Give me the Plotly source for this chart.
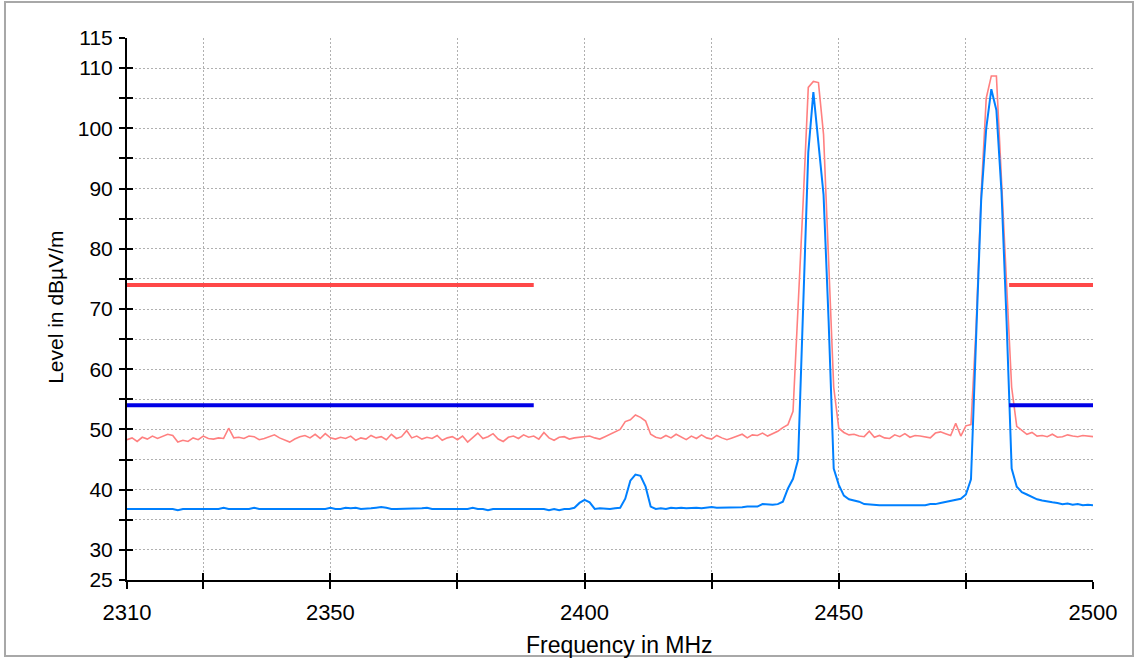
import numpy as np
import plotly.graph_objects as go

# Frequency grid (MHz), 1 MHz steps
freq = list(range(2310, 2501))

# Peak detector trace (dBµV/m)
peak = [
    48.3, 48.6, 48.0, 48.7, 48.4, 48.9, 48.5, 48.8, 49.2, 49.0,
    47.9, 48.2, 48.0, 48.6, 48.3, 48.9, 48.5, 48.4, 48.6, 48.5,
    50.2, 48.6, 48.7, 48.5, 48.9, 48.8, 48.3, 48.5, 48.8, 49.1,
    48.6, 48.2, 47.9, 48.4, 48.8, 49.0, 48.6, 49.2, 48.5, 49.3,
    48.6, 48.4, 48.7, 48.5, 48.9, 48.2, 48.6, 48.4, 49.0, 48.6,
    48.8, 48.3, 49.2, 48.5, 48.8, 49.8, 48.6, 48.9, 48.4, 48.7,
    48.5, 49.0, 48.2, 48.6, 48.8, 48.3, 48.9, 47.9, 48.6, 49.4,
    48.5, 48.8, 49.3, 48.4, 48.0, 48.7, 48.9, 48.5, 49.1, 48.7,
    48.9, 48.4, 49.5, 48.6, 48.2, 48.7, 48.8, 48.4, 48.6, 48.7,
    48.8, 48.9, 48.6, 48.4, 48.8, 49.2, 49.5, 50.0, 51.3, 51.6,
    52.4, 52.0, 51.4, 49.2, 48.7, 48.5, 49.0, 48.6, 49.2, 48.8,
    48.3, 48.9, 48.5, 49.1, 48.6, 48.4, 49.0, 48.6, 48.3, 48.6,
    48.9, 49.2, 48.6, 49.1, 49.0, 49.4, 48.9, 49.3, 49.7, 50.3,
    50.8, 53.0, 70.0, 88.0, 106.8, 107.8, 107.6, 99.0, 78.0, 57.0,
    50.2, 49.5, 49.1, 49.2, 48.9, 48.8, 49.7, 48.7, 49.0, 48.6,
    48.5, 49.1, 48.8, 49.3, 48.7, 49.0, 48.9, 48.8, 48.6, 49.4,
    49.6, 49.3, 49.0, 51.0, 48.9, 50.6, 50.8, 66.8, 89.0, 105.0,
    108.7, 108.7, 92.0, 75.0, 57.0, 50.5, 49.8, 49.2, 49.5, 48.9,
    49.0, 48.8, 49.2, 48.7, 48.8, 49.1, 48.9, 48.8, 49.0, 48.9,
    48.8,
]

# Average detector trace (dBµV/m)
average = [
    36.8, 36.8, 36.8, 36.8, 36.8, 36.8, 36.8, 36.8, 36.8, 36.8,
    36.6, 36.8, 36.8, 36.8, 36.8, 36.8, 36.8, 36.8, 36.8, 37.0,
    36.8, 36.8, 36.8, 36.8, 36.8, 37.0, 36.8, 36.8, 36.8, 36.8,
    36.8, 36.8, 36.8, 36.8, 36.8, 36.8, 36.8, 36.8, 36.8, 36.8,
    37.0, 36.8, 36.8, 37.0, 36.9, 37.0, 36.8, 36.8, 36.9, 37.0,
    37.1, 37.0, 36.8, 36.8, 36.8, 36.8, 36.8, 36.8, 36.9, 37.0,
    36.8, 36.8, 36.8, 36.8, 36.8, 36.8, 36.8, 36.8, 37.0, 36.8,
    36.8, 36.6, 36.8, 36.8, 36.8, 36.8, 36.8, 36.8, 36.8, 36.8,
    36.8, 36.8, 36.8, 36.6, 36.8, 36.6, 36.8, 36.8, 37.0, 37.8,
    38.3, 37.9, 36.8, 36.9, 36.8, 36.8, 36.9, 37.0, 38.5, 41.5,
    42.5, 42.3, 40.5, 37.2, 36.8, 36.9, 36.8, 37.0, 36.9, 37.0,
    36.9, 37.0, 37.0, 36.9, 37.0, 37.1, 37.0, 37.0, 37.0, 37.1,
    37.1, 37.1, 37.2, 37.2, 37.2, 37.6, 37.5, 37.5, 37.6, 38.0,
    40.2, 41.8, 45.0, 72.0, 96.0, 106.0, 97.5, 89.0, 68.0, 43.5,
    40.8, 39.0, 38.4, 38.2, 38.0, 37.6, 37.5, 37.4, 37.4, 37.4,
    37.4, 37.4, 37.4, 37.4, 37.4, 37.4, 37.4, 37.4, 37.6, 37.6,
    37.8, 38.0, 38.1, 38.4, 38.5, 39.2, 41.7, 65.0, 88.0, 100.0,
    106.5, 103.0, 89.5, 68.0, 43.5, 40.5, 39.6, 39.2, 38.8, 38.4,
    38.2, 38.0, 37.9, 37.8, 37.6, 37.7, 37.5, 37.6, 37.4, 37.5,
    37.4,
]

# Limits (restricted bands)
limit_bands_x = [[2310, 2390], [2483.5, 2500]]
peak_limit = 74
avg_limit = 54

# Axis ticks
x_tickvals = [2310, 2325, 2350, 2375, 2400, 2425, 2450, 2475, 2500]
x_ticktext = ["2310", "", "2350", "", "2400", "", "2450", "", "2500"]
y_tickvals = list(range(25, 116, 5))
y_labels = {25, 30, 40, 50, 60, 70, 80, 90, 100, 110, 115}
y_ticktext = [str(v) if v in y_labels else "" for v in y_tickvals]

FONT = "Liberation Sans, Arial, sans-serif"
PEAK_COLOR = "rgb(255,128,128)"
AVG_COLOR = "rgb(0,128,255)"
PEAK_LIMIT_COLOR = "rgb(255,72,72)"
AVG_LIMIT_COLOR = "rgb(0,0,230)"

fig = go.Figure()

fig.add_trace(go.Scatter(x=freq, y=peak, mode="lines",
                         line=dict(color=PEAK_COLOR, width=1.6),
                         hoverinfo="skip", showlegend=False))
fig.add_trace(go.Scatter(x=freq, y=average, mode="lines",
                         line=dict(color=AVG_COLOR, width=2),
                         hoverinfo="skip", showlegend=False))

for band in limit_bands_x:
    fig.add_trace(go.Scatter(x=band, y=[peak_limit, peak_limit], mode="lines",
                             line=dict(color=PEAK_LIMIT_COLOR, width=4),
                             xaxis="x2", yaxis="y2",
                             hoverinfo="skip", showlegend=False))
    fig.add_trace(go.Scatter(x=band, y=[avg_limit, avg_limit], mode="lines",
                             line=dict(color=AVG_LIMIT_COLOR, width=4),
                             xaxis="x2", yaxis="y2",
                             hoverinfo="skip", showlegend=False))

grid_style = dict(showgrid=True, gridcolor="#b0b0b0", gridwidth=1, griddash="2px,2px")
tick_font = dict(family=FONT, size=21, color="black")

fig.update_layout(
    width=1136, height=660,
    margin=dict(l=127, r=43, t=38, b=80),
    paper_bgcolor="white", plot_bgcolor="white",
    xaxis=dict(range=[2310, 2500], tickmode="array", tickvals=x_tickvals, ticktext=x_ticktext,
               ticks="outside", ticklen=7, tickwidth=2, tickcolor="black",
               showline=True, linecolor="black", linewidth=2, zeroline=False,
               tickfont=dict(family=FONT, size=22, color="black"), ticklabelstandoff=5,
               **grid_style),
    yaxis=dict(range=[25, 115], tickmode="array", tickvals=y_tickvals, ticktext=y_ticktext,
               ticks="outside", ticklen=6, tickwidth=2, tickcolor="black",
               showline=True, linecolor="black", linewidth=2, zeroline=False,
               tickfont=tick_font, ticklabelstandoff=2, **grid_style),
    xaxis2=dict(range=[2310, 2500], overlaying="x", side="bottom", tickmode="array",
                tickvals=x_tickvals, ticks="inside", ticklen=7, tickwidth=2, tickcolor="black",
                showticklabels=False, showgrid=False, zeroline=False, showline=False),
    yaxis2=dict(range=[25, 115], overlaying="y", side="left", tickmode="array",
                tickvals=y_tickvals, ticks="inside", ticklen=6, tickwidth=2, tickcolor="black",
                showticklabels=False, showgrid=False, zeroline=False, showline=False),
    annotations=[
        dict(text="Frequency in MHz", xref="paper", yref="paper", x=0.51, y=-0.12,
             xanchor="center", yanchor="middle", showarrow=False,
             font=dict(family=FONT, size=23, color="black")),
        dict(text="Level in dBµV/m", xref="paper", yref="paper", x=-0.0735, y=0.504,
             xanchor="center", yanchor="middle", textangle=-90, showarrow=False,
             font=dict(family=FONT, size=21, color="black")),
    ],
    shapes=[
        dict(type="rect", xref="paper", yref="paper", x0=-0.1263, x1=1.0414, y0=-0.1402, y1=1.0664,
             line=dict(color="#a8a8a8", width=2), fillcolor="rgba(0,0,0,0)", layer="above"),
    ],
)

fig.write_html("out.html", config={"displayModeBar": False},
               post_script="document.body.style.margin='0px';")
